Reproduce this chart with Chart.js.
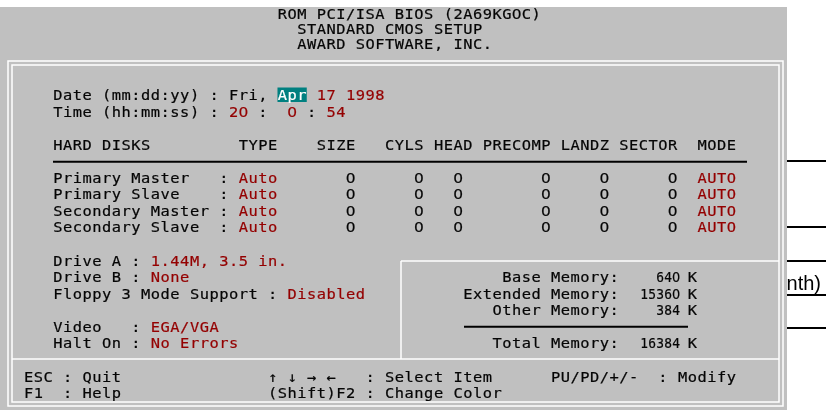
<!DOCTYPE html>
<html>
<head>
<meta charset="utf-8">
<script src="https://cdn.jsdelivr.net/npm/chart.js@4"></script>
<style>
html,body{margin:0;padding:0;background:#fff;overflow:hidden}
#wrap{position:relative;width:826px;height:410px}
</style>
</head>
<body>
<div id="wrap"><canvas id="c" width="826" height="410"></canvas></div>
<script>
// ---------- data ----------
const headerLines = ['ROM PCI/ISA BIOS (2A69KG0C)', 'STANDARD CMOS SETUP', 'AWARD SOFTWARE, INC.'];
const dateLabel = 'Date (mm:dd:yy)';
const dateWeekday = 'Fri,';
const dateMonth = 'Apr';
const dateDay = 17;
const dateYear = 1998;
const timeLabel = 'Time (hh:mm:ss)';
const timeParts = [20, 0, 54];
const diskTitle = 'HARD DISKS';
const diskColumns = ['TYPE', 'SIZE', 'CYLS', 'HEAD', 'PRECOMP', 'LANDZ', 'SECTOR', 'MODE'];
const diskNames = ['Primary Master', 'Primary Slave', 'Secondary Master', 'Secondary Slave'];
const diskTypes = ['Auto', 'Auto', 'Auto', 'Auto'];
const diskSize = [0, 0, 0, 0];
const diskCyls = [0, 0, 0, 0];
const diskHead = [0, 0, 0, 0];
const diskPrecomp = [0, 0, 0, 0];
const diskLandz = [0, 0, 0, 0];
const diskSector = [0, 0, 0, 0];
const diskMode = ['AUTO', 'AUTO', 'AUTO', 'AUTO'];
const driveLabels = ['Drive A', 'Drive B'];
const driveValues = ['1.44M, 3.5 in.', 'None'];
const floppyModeLabel = 'Floppy 3 Mode Support';
const floppyModeValue = 'Disabled';
const videoValue = 'EGA/VGA';
const haltOnValue = 'No Errors';
const memoryLabels = ['Base Memory', 'Extended Memory', 'Other Memory', 'Total Memory'];
const memoryValuesK = [640, 15360, 384, 16384];
const footerKeys = ['ESC', 'F1', '\u2191 \u2193 \u2192 \u2190', '(Shift)F2', 'PU/PD/+/-'];
const footerActions = ['Quit', 'Help', 'Select Item', 'Change Color', 'Modify'];
const pageFragment = 'onth)';

// ---------- layout / style ----------
const W = 826, H = 410;
const CELL_W = 9.76, X0 = 4.2, ROW_H = 16.56, Y0 = 12.2;
const FONT = '14px "DejaVu Sans Mono", monospace';
const ZERO_FONT = '14px "DejaVu Sans", sans-serif';
const C_BLACK = '#050505', C_RED = '#940000', C_WHITE = '#ffffff', C_GRAY = '#c0c0c0', C_TEAL = '#008080';

function glyph(ctx, ch, x, y, color, stretch) {
  ctx.save();
  ctx.translate(x, y);
  ctx.scale(stretch, 1);
  ctx.font = ch === '0' ? ZERO_FONT : FONT;
  ctx.fillStyle = color;
  ctx.strokeStyle = color;
  ctx.lineWidth = 0.2;
  ctx.fillText(ch, 0, 0);
  ctx.strokeText(ch, 0, 0);
  ctx.restore();
}
function put(ctx, sx, sy, text, col, row, color) {
  const y = sy.getPixelForValue(row) + 5;
  const s = String(text);
  for (let i = 0; i < s.length; i++) {
    if (s[i] === ' ') continue;
    glyph(ctx, s[i], sx.getPixelForValue(col + i + 0.5), y, color, 1.1);
  }
}
function putRight(ctx, sx, sy, text, endCol, row, color) {
  const s = String(text);
  put(ctx, sx, sy, s, endCol - s.length + 1, row, color);
}
function hline(ctx, x1, x2, y, color, w) {
  ctx.strokeStyle = color; ctx.lineWidth = w;
  ctx.beginPath(); ctx.moveTo(x1, y); ctx.lineTo(x2, y); ctx.stroke();
}
function vline(ctx, x, y1, y2, color, w) {
  ctx.strokeStyle = color; ctx.lineWidth = w;
  ctx.beginPath(); ctx.moveTo(x, y1); ctx.lineTo(x, y2); ctx.stroke();
}

const biosScreen = {
  id: 'biosScreen',
  beforeDraw(chart) {
    const ctx = chart.ctx;
    const sx = chart.scales.x, sy = chart.scales.y;
    ctx.save();
    // page behind the screenshot
    ctx.fillStyle = '#ffffff';
    ctx.fillRect(0, 0, W, H);
    [161, 227, 261, 295, 328].forEach(y => hline(ctx, 780, W, y, '#000', 2));
    ctx.fillStyle = '#000';
    ctx.font = '20px "Liberation Sans", Arial, sans-serif';
    ctx.textAlign = 'right';
    ctx.textBaseline = 'alphabetic';
    ctx.fillText(pageFragment, 821, 290);

    // screen
    ctx.fillStyle = C_GRAY;
    ctx.fillRect(0, 7, 787, H - 7);

    // double frame
    ctx.strokeStyle = C_WHITE; ctx.lineWidth = 1.5;
    ctx.strokeRect(8, 61, 775, 345);
    ctx.strokeRect(12, 65, 767, 337);
    // footer divider
    hline(ctx, 12, 779, 359, C_WHITE, 1.5);
    // memory box
    hline(ctx, 401, 779, 261, C_WHITE, 1.5);
    vline(ctx, 401, 261, 359, C_WHITE, 1.5);

    ctx.textAlign = 'center';
    ctx.textBaseline = 'alphabetic';

    // header
    const headerCols = [28, 30, 30];
    const headerRows = [0.11, 1.0, 1.92];
    headerLines.forEach((t, i) => put(ctx, sx, sy, t, headerCols[i], headerRows[i], C_BLACK));

    // date / time
    put(ctx, sx, sy, dateLabel + ' : ' + dateWeekday, 5, 5, C_BLACK);
    ctx.fillStyle = C_TEAL;
    const hx1 = sx.getPixelForValue(28), hx2 = sx.getPixelForValue(31);
    const hy = sy.getPixelForValue(5);
    ctx.fillRect(hx1, hy - 7.5, hx2 - hx1, 14.5);
    put(ctx, sx, sy, dateMonth, 28, 5, C_WHITE);
    put(ctx, sx, sy, String(dateDay), 32, 5, C_RED);
    put(ctx, sx, sy, String(dateYear), 35, 5, C_RED);

    put(ctx, sx, sy, timeLabel + ' :', 5, 6, C_BLACK);
    putRight(ctx, sx, sy, timeParts[0], 24, 6, C_RED);
    put(ctx, sx, sy, ':', 26, 6, C_BLACK);
    putRight(ctx, sx, sy, timeParts[1], 29, 6, C_RED);
    put(ctx, sx, sy, ':', 31, 6, C_BLACK);
    putRight(ctx, sx, sy, timeParts[2], 34, 6, C_RED);

    // hard disks table
    const headCols = [24, 32, 39, 44, 49, 57, 63, 71];
    put(ctx, sx, sy, diskTitle, 5, 8, C_BLACK);
    diskColumns.forEach((t, i) => put(ctx, sx, sy, t, headCols[i], 8, C_BLACK));
    hline(ctx, 53, 747, sy.getPixelForValue(9) + 0.5, '#000', 2);
    const numCols = [diskSize, diskCyls, diskHead, diskPrecomp, diskLandz, diskSector];
    const numEnd = [35, 42, 46, 55, 61, 68];
    diskNames.forEach((name, r) => {
      const row = 10 + r;
      put(ctx, sx, sy, name, 5, row, C_BLACK);
      put(ctx, sx, sy, ':', 22, row, C_BLACK);
      put(ctx, sx, sy, diskTypes[r], 24, row, C_RED);
      numCols.forEach((arr, k) => putRight(ctx, sx, sy, arr[r], numEnd[k], row, C_BLACK));
      put(ctx, sx, sy, diskMode[r], 71, row, C_RED);
    });

    // drives
    driveLabels.forEach((t, i) => {
      put(ctx, sx, sy, t, 5, 15 + i, C_BLACK);
      put(ctx, sx, sy, ':', 13, 15 + i, C_BLACK);
      put(ctx, sx, sy, driveValues[i], 15, 15 + i, C_RED);
    });
    put(ctx, sx, sy, floppyModeLabel, 5, 17, C_BLACK);
    put(ctx, sx, sy, ':', 27, 17, C_BLACK);
    put(ctx, sx, sy, floppyModeValue, 29, 17, C_RED);
    put(ctx, sx, sy, 'Video', 5, 19, C_BLACK);
    put(ctx, sx, sy, ':', 13, 19, C_BLACK);
    put(ctx, sx, sy, videoValue, 15, 19, C_RED);
    put(ctx, sx, sy, 'Halt On', 5, 20, C_BLACK);
    put(ctx, sx, sy, ':', 13, 20, C_BLACK);
    put(ctx, sx, sy, haltOnValue, 15, 20, C_RED);

    // memory box
    const memRows = [16, 17, 18, 20];
    memoryLabels.forEach((t, i) => {
      const row = memRows[i];
      putRight(ctx, sx, sy, t + ':', 62, row, C_BLACK);
      const s = String(memoryValuesK[i]);
      const endX = sx.getPixelForValue(69.25);
      const y = sy.getPixelForValue(row) + 5;
      for (let k = 0; k < s.length; k++) {
        glyph(ctx, s[s.length - 1 - k], endX - 4 - k * 8, y, C_BLACK, 0.92);
      }
      put(ctx, sx, sy, 'K', 70, row, C_BLACK);
    });
    hline(ctx, 464, 688, sy.getPixelForValue(19), '#000', 2);

    // footer
    const fCols = [2, 2, 27, 27, 56];
    const fRows = [22, 23, 22, 23, 22];
    const fColon = [6, 6, 37, 37, 67];
    const fAct = [8, 8, 39, 39, 69];
    footerKeys.forEach((k, i) => {
      put(ctx, sx, sy, k, fCols[i], fRows[i], C_BLACK);
      put(ctx, sx, sy, ':', fColon[i], fRows[i], C_BLACK);
      put(ctx, sx, sy, footerActions[i], fAct[i], fRows[i], C_BLACK);
    });
    ctx.restore();
  }
};

const xMin = -X0 / CELL_W, xMax = xMin + W / CELL_W;
const yMin = -Y0 / ROW_H, yMax = yMin + H / ROW_H;

new Chart(document.getElementById('c'), {
  type: 'scatter',
  data: { datasets: [{ data: [], pointRadius: 0 }] },
  options: {
    responsive: false,
    animation: false,
    events: [],
    layout: { padding: 0 },
    plugins: { legend: { display: false }, tooltip: { enabled: false }, title: { display: false } },
    scales: {
      x: { type: 'linear', min: xMin, max: xMax, display: false },
      y: { type: 'linear', min: yMin, max: yMax, reverse: true, display: false }
    }
  },
  plugins: [biosScreen]
});
</script>
</body>
</html>
